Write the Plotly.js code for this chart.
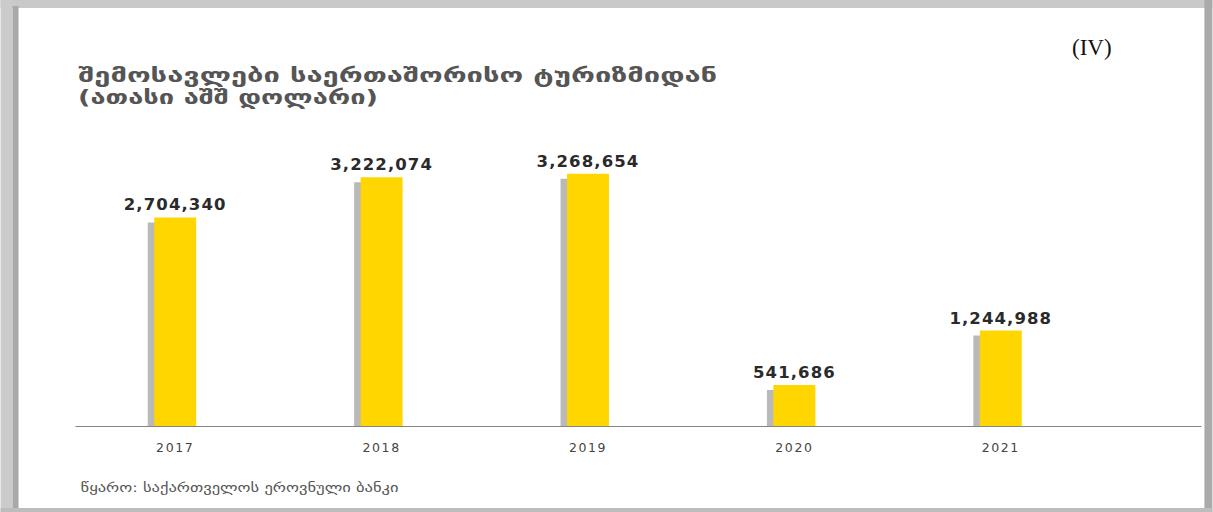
<!DOCTYPE html>
<html>
<head>
<meta charset="utf-8">
<script src="https://cdn.plot.ly/plotly-3.0.1.min.js"></script>
<style>
html,body{margin:0;padding:0;background:#fff;}
#chart{width:1213px;height:512px;}
#chart g.xtick text{letter-spacing:1.6px;}
#chart .bartext text, #chart text.bartext{letter-spacing:1.1px;}
</style>
</head>
<body>
<div id="chart"></div>
<script>
// ---- data ----
const years = ['2017', '2018', '2019', '2020', '2021'];
const revenue = [2704340, 3222074, 3268654, 541686, 1244988];
const titleLine1 = 'შემოსავლები საერთაშორისო ტურიზმიდან';
const titleLine2 = '(ათასი აშშ დოლარი)';
const sourceText = 'წყარო: საქართველოს ეროვნული ბანკი';
const cornerText = '(IV)';

// ---- layout geometry ----
const W = 1213, Hh = 512;
const L = 71.5, R = 108.5, T = 148, B = 85;
const PW = W - L - R, PH = Hh - T - B;
const px2x = p => (p - L) / PW;
const px2y = p => (Hh - B - p) / PH;
const unitPx = PW / years.length;
const barW = 42 / unitPx;
const shadowShift = 6.5 / unitPx;
const yMax = 3600000;
const shadowDrop = 5 * yMax / PH;

// text blocks whose rendered width is matched to the reference (left px, width px)
const textBoxes = {0: [78, 639], 1: [78, 300], 3: [80, 318]};

const shadow = {
  type: 'bar', x: years, y: revenue,
  base: revenue.map(() => -shadowDrop),
  width: barW, offset: -barW / 2 - shadowShift,
  marker: {color: '#b9b9b9'}, hoverinfo: 'skip', showlegend: false, cliponaxis: false
};
const bars = {
  type: 'bar', x: years, y: revenue,
  width: barW, offset: -barW / 2,
  marker: {color: '#FFD600'},
  texttemplate: '%{y:,}', textposition: 'outside', constraintext: 'none',
  cliponaxis: false,
  textfont: {family: 'DejaVu Sans', size: 16.5, color: '#2a2a2a', weight: 'bold'},
  showlegend: false
};

const shapes = [
  {type:'rect', xref:'paper', yref:'paper', x0:px2x(0), x1:px2x(W), y0:px2y(0), y1:px2y(8), fillcolor:'#c9c9c9', line:{width:0}, layer:'below'},
  {type:'rect', xref:'paper', yref:'paper', x0:px2x(0), x1:px2x(12), y0:px2y(0), y1:px2y(Hh), fillcolor:'#cbcbcb', line:{width:0}, layer:'below'},
  {type:'rect', xref:'paper', yref:'paper', x0:px2x(12), x1:px2x(18), y0:px2y(6), y1:px2y(Hh), fillcolor:'#a9a9a9', line:{width:0}, layer:'below'},
  {type:'rect', xref:'paper', yref:'paper', x0:px2x(1205), x1:px2x(W), y0:px2y(0), y1:px2y(Hh), fillcolor:'#aaaaaa', line:{width:0}, layer:'below'},
  {type:'rect', xref:'paper', yref:'paper', x0:px2x(0), x1:px2x(W), y0:px2y(508), y1:px2y(Hh), fillcolor:'#bdbdbd', line:{width:0}, layer:'below'},
  {type:'line', xref:'paper', yref:'y', x0:px2x(75), x1:px2x(1202), y0:0, y1:0, line:{color:'#858585', width:2}, layer:'above'}
];

const cx = i => px2x(textBoxes[i][0] + textBoxes[i][1] / 2);
const annotations = [
  {text: titleLine1, xref:'paper', yref:'paper', x:cx(0), y:px2y(75), xanchor:'center', yanchor:'middle',
   showarrow:false, font:{family:'DejaVu Sans', size:20, color:'#555555', weight:'bold'}},
  {text: titleLine2, xref:'paper', yref:'paper', x:cx(1), y:px2y(97), xanchor:'center', yanchor:'middle',
   showarrow:false, font:{family:'DejaVu Sans', size:20, color:'#555555', weight:'bold'}},
  {text: cornerText, xref:'paper', yref:'paper', x:px2x(1092), y:px2y(48), xanchor:'center', yanchor:'middle',
   showarrow:false, font:{family:'Liberation Serif', size:23, color:'#111'}},
  {text: sourceText, xref:'paper', yref:'paper', x:cx(3), y:px2y(488), xanchor:'center', yanchor:'middle',
   showarrow:false, font:{family:'DejaVu Sans', size:12, color:'#555'}}
];

const layout = {
  width: W, height: Hh,
  margin: {l: L, r: R, t: T, b: B, pad: 0},
  paper_bgcolor: '#ffffff', plot_bgcolor: 'rgba(0,0,0,0)',
  barmode: 'overlay',
  xaxis: {type:'category', range:[-0.5, years.length - 0.5], showgrid:false, zeroline:false, showline:false,
          ticks:'outside', ticklen:9, tickcolor:'rgba(0,0,0,0)',
          tickfont:{family:'DejaVu Sans', size:12.5, color:'#444'}, fixedrange:true},
  yaxis: {range:[0, yMax], visible:false, fixedrange:true},
  shapes: shapes,
  annotations: annotations
};

Plotly.newPlot('chart', [shadow, bars], layout, {displayModeBar:false, staticPlot:true}).then(gd => {
  Object.keys(textBoxes).forEach(i => {
    const t = gd.querySelector('g.annotation[data-index="' + i + '"] text.annotation-text');
    if (t) {
      t.setAttribute('textLength', textBoxes[i][1]);
      t.setAttribute('lengthAdjust', 'spacingAndGlyphs');
    }
  });
});
</script>
</body>
</html>
